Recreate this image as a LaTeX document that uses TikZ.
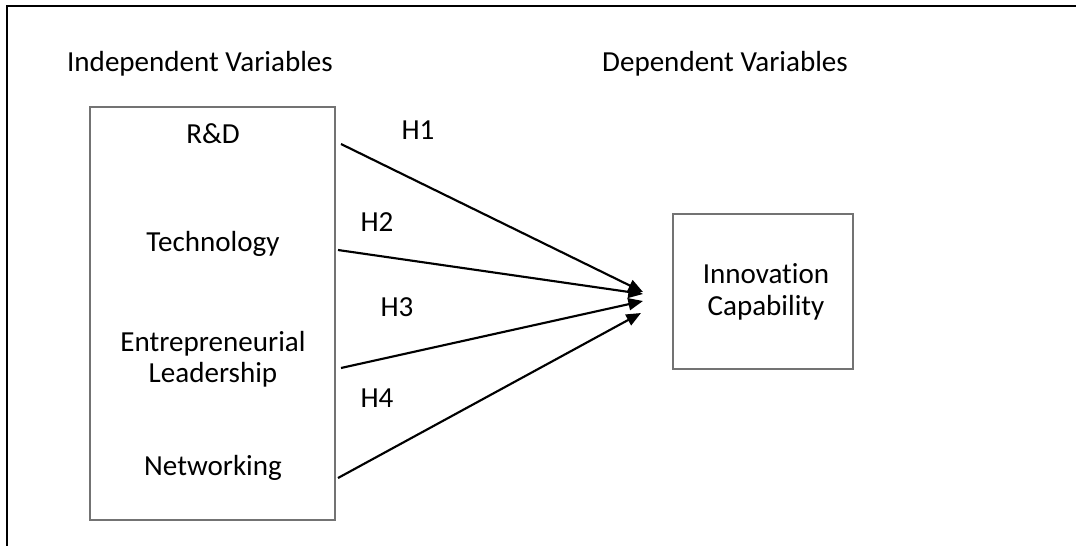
\documentclass[tikz,border=0pt]{standalone}
\usepackage{fontspec}
\setmainfont{Carlito}[Ligatures=NoCommon]
\usetikzlibrary{arrows.meta}
\definecolor{boxgray}{rgb}{0.45,0.45,0.45}

\begin{document}
\begin{tikzpicture}[x=0.75pt,y=-0.75pt,
    txt/.style={font=\fontsize{21.8}{23.5}\selectfont, align=center, inner sep=0pt},
    seta/.style={line width=1.6pt, -{Triangle[length=11pt,width=9pt]}}]
	\useasboundingbox (0,0) rectangle (1076,546);
	%Moldura
	\draw[line width=1.8pt] (7,546) -- (7,6) -- (1076,6);

	%Titulos
	\node[txt] (indep) at (200,64) {Independent Variables};
	\node[txt] (dep) at (725,64) {Dependent Variables};

	%Caixas
	\draw[boxgray, line width=0.8pt] (90,107) rectangle (335,520);
	\draw[boxgray, line width=0.8pt] (673,214) rectangle (853,369);

	%Variaveis independentes
	\node[txt] (rd) at (213,134) {R\&D};
	\node[txt] (tech) at (213,244) {Technology};
	\node[txt] (lead) at (213,359) {Entrepreneurial\\Leadership};
	\node[txt] (net) at (213,468) {Networking};
	\node[txt] (innov) at (766,292) {Innovation\\Capability};

	%Pontas das setas
	\coordinate (s1) at (341,144);
	\coordinate (s2) at (338,250);
	\coordinate (s3) at (341,368);
	\coordinate (s4) at (338,478);
	\coordinate (e1) at (643,292);
	\coordinate (e2) at (643,294);
	\coordinate (e3) at (643,301);
	\coordinate (e4) at (641,313);

	%Hipoteses
	\draw[seta] (s1) -- (e1);
	\draw[seta] (s2) -- (e2);
	\draw[seta] (s3) -- (e3);
	\draw[seta] (s4) -- (e4);
	\node[txt] (h1) at (418,130) {H1};
	\node[txt] (h2) at (377,222) {H2};
	\node[txt] (h3) at (397,307) {H3};
	\node[txt] (h4) at (377,398) {H4};
\end{tikzpicture}
\end{document}
